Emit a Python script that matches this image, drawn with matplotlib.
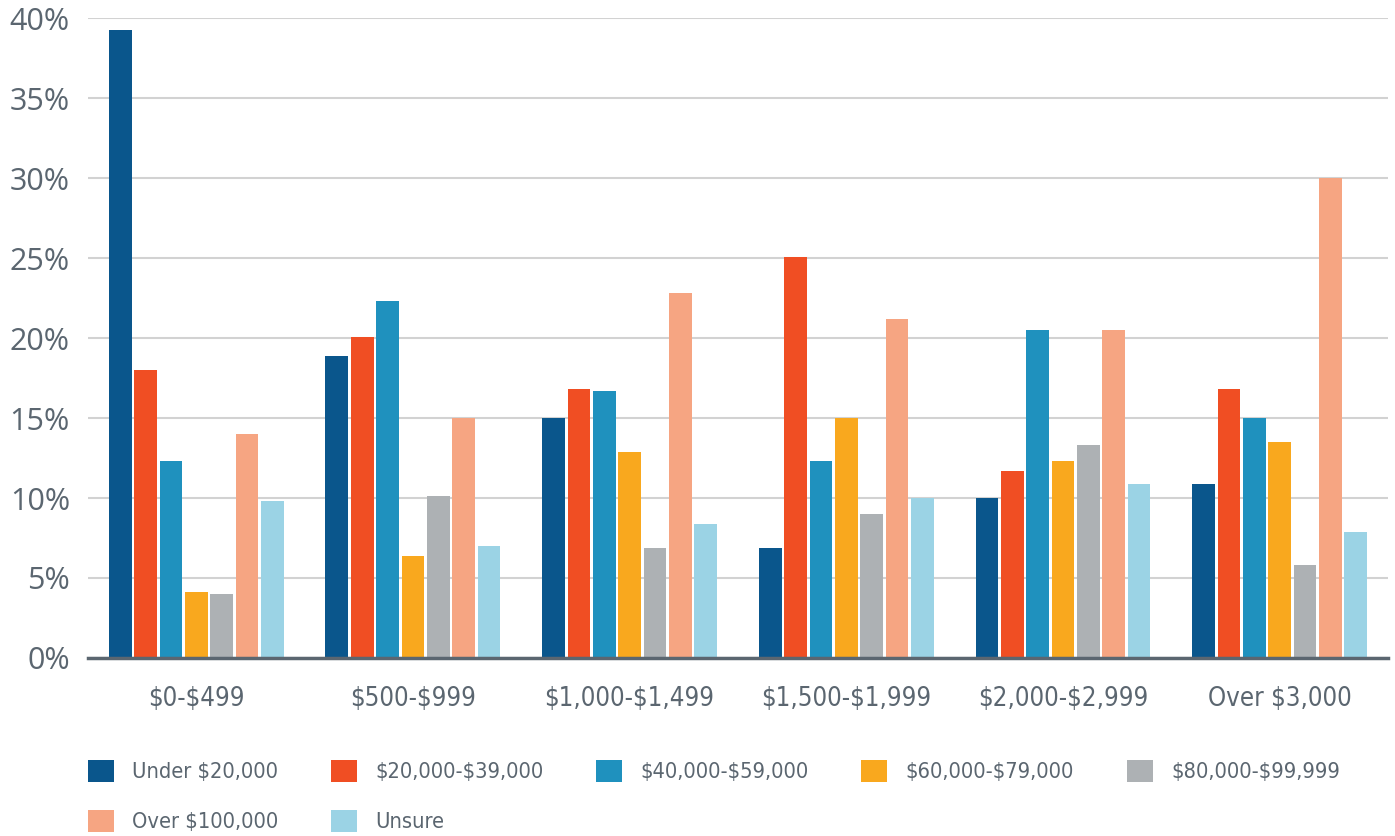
import numpy as np
import matplotlib.pyplot as plt
from matplotlib.patches import Patch

plt.rcParams["text.parse_math"] = False

# ranges on the x axis
categories = ["$0-$499", "$500-$999", "$1,000-$1,499", "$1,500-$1,999",
              "$2,000-$2,999", "Over $3,000"]

# income groups (legend)
series_names = ["Under $20,000", "$20,000-$39,000", "$40,000-$59,000",
                "$60,000-$79,000", "$80,000-$99,999", "Over $100,000", "Unsure"]

under_20k = [39.3, 18.9, 15.0, 6.9, 10.0, 10.9]
k20_39 = [18.0, 20.1, 16.8, 25.1, 11.7, 16.8]
k40_59 = [12.3, 22.3, 16.7, 12.3, 20.5, 15.0]
k60_79 = [4.1, 6.4, 12.9, 15.0, 12.3, 13.5]
k80_99 = [4.0, 10.1, 6.9, 9.0, 13.3, 5.8]
over_100k = [14.0, 15.0, 22.8, 21.2, 20.5, 30.0]
unsure = [9.8, 7.0, 8.4, 10.0, 10.9, 7.9]

yticks = [0, 5, 10, 15, 20, 25, 30, 35, 40]

colors = ["#0a568c", "#f04e23", "#1f91be", "#f9a81e", "#adb1b4", "#f6a582", "#9bd3e5"]
text_col = "#5b6670"


def plots():
    series = [under_20k, k20_39, k40_59, k60_79, k80_99, over_100k, unsure]

    fig = plt.figure(figsize=(13.95, 8.36), dpi=100)
    ax = fig.add_axes([0.063, 0.213, 0.932, 0.765])

    x = np.arange(len(categories))
    step = 0.117
    width = 0.105
    for j, vals in enumerate(series):
        ax.bar(x + (j - 3) * step, vals, width, color=colors[j], zorder=3)

    ax.set_xlim(-0.5, len(categories) - 0.5)
    ax.set_ylim(0, 40)
    ax.set_yticks(yticks)
    ax.set_yticklabels([f"{t}%" for t in yticks])
    ax.set_xticks(x)
    ax.set_xticklabels(categories)

    ax.grid(True, axis="y", color="#d2d2d2", linewidth=1.5, zorder=0)
    for s in ["top", "right", "left"]:
        ax.spines[s].set_visible(False)
    ax.spines["bottom"].set_color(text_col)
    ax.spines["bottom"].set_linewidth(2.5)
    ax.spines["bottom"].set_zorder(4)

    ax.tick_params(axis="y", length=0, pad=13, labelcolor=text_col)
    ax.tick_params(axis="x", length=0, pad=20, labelcolor=text_col)
    for lbl in ax.get_yticklabels():
        lbl.set_family("Open Sans")
        lbl.set_fontsize(22)
    for lbl in ax.get_xticklabels():
        lbl.set_family("DejaVu Sans")
        lbl.set_stretch("condensed")
        lbl.set_fontsize(18.5)

    handles = [Patch(facecolor=c, edgecolor="none") for c in colors]
    order = [0, 5, 1, 6, 2, 3, 4]
    fig.legend([handles[i] for i in order], [series_names[i] for i in order],
               loc="upper left", bbox_to_anchor=(0.055, 0.104),
               ncol=5, frameon=False, borderpad=0, handlelength=1.19,
               handleheight=1.19, handletextpad=0.83, columnspacing=2.43,
               labelspacing=1.25, labelcolor=text_col,
               prop={"family": "DejaVu Sans", "stretch": "condensed", "size": 15.7})

    fig.savefig("out.png", dpi=100)


if __name__ == "__main__":
    plots()
